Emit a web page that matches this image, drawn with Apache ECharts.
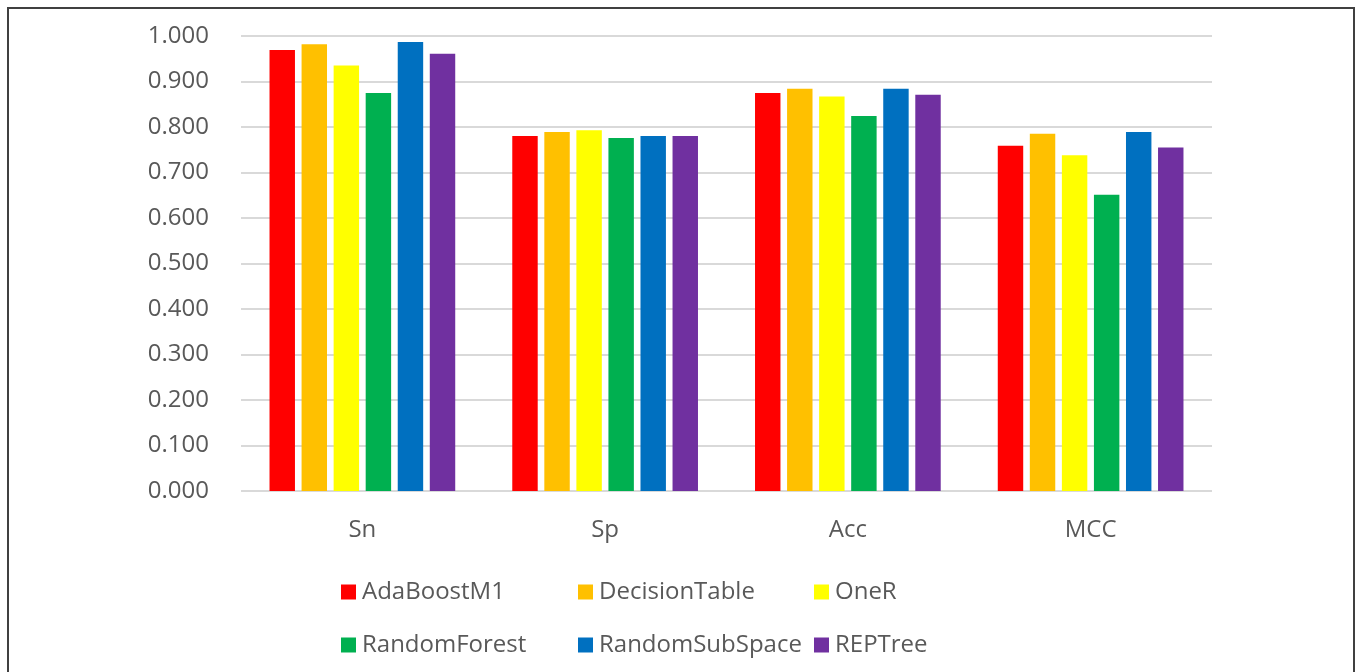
<!DOCTYPE html>
<html>
<head>
<meta charset="utf-8">
<title>Classifier performance</title>
<script src="https://cdn.jsdelivr.net/npm/echarts@6/dist/echarts.min.js"></script>
<style>
  html, body { margin: 0; padding: 0; background: #ffffff; }
  #chart { width: 1358px; height: 672px; }
</style>
</head>
<body>
<div id="chart"></div>
<script>
// Metrics on the x axis
const categories = ['Sn', 'Sp', 'Acc', 'MCC'];

// Classifier scores, one value per metric
const adaBoostM1     = [0.969, 0.780, 0.875, 0.759];
const decisionTable  = [0.982, 0.789, 0.884, 0.785];
const oneR           = [0.935, 0.793, 0.867, 0.738];
const randomForest   = [0.875, 0.776, 0.824, 0.651];
const randomSubSpace = [0.987, 0.780, 0.884, 0.789];
const repTree        = [0.961, 0.780, 0.871, 0.755];

const seriesNames = ['AdaBoostM1', 'DecisionTable', 'OneR', 'RandomForest', 'RandomSubSpace', 'REPTree'];
const seriesValues = [adaBoostM1, decisionTable, oneR, randomForest, randomSubSpace, repTree];
const seriesColors = ['#FF0000', '#FFC000', '#FFFF00', '#00B050', '#0070C0', '#7030A0'];

const FONT = '"Open Sans", "Liberation Sans", sans-serif';
const TEXT_COLOR = '#595959';

const chart = echarts.init(document.getElementById('chart'), null, { renderer: 'canvas' });

// Legend laid out as three columns of two entries each
function legendColumn(names, left) {
  return {
    orient: 'vertical',
    left: left,
    top: 579,
    padding: 0,
    itemWidth: 15,
    itemHeight: 15,
    itemGap: 27,
    icon: 'rect',
    data: names,
    textStyle: {
      fontFamily: FONT,
      fontSize: 24,
      lineHeight: 26,
      color: TEXT_COLOR,
      padding: [0, 0, 0, 1]
    }
  };
}

const option = {
  backgroundColor: '#ffffff',
  animation: false,
  color: seriesColors,
  graphic: [{
    type: 'rect',
    shape: { x: 8, y: 8, width: 1346, height: 700 },
    style: { fill: 'none', stroke: '#404040', lineWidth: 2 },
    silent: true
  }],
  grid: { left: 241, right: 146, top: 36, bottom: 181, containLabel: false },
  legend: [
    legendColumn([seriesNames[0], seriesNames[3]], 341),
    legendColumn([seriesNames[1], seriesNames[4]], 578),
    legendColumn([seriesNames[2], seriesNames[5]], 814)
  ],
  xAxis: {
    type: 'category',
    data: categories,
    axisLine: { show: false },
    axisTick: { show: false },
    axisLabel: {
      margin: 27,
      fontFamily: FONT,
      fontSize: 24,
      color: TEXT_COLOR
    }
  },
  yAxis: {
    type: 'value',
    min: 0,
    max: 1,
    interval: 0.1,
    axisLine: { show: false },
    axisTick: { show: false },
    splitLine: { lineStyle: { color: '#d9d9d9', width: 2 } },
    axisLabel: {
      margin: 32,
      fontFamily: FONT,
      fontSize: 24,
      color: TEXT_COLOR,
      formatter: v => v.toFixed(3)
    }
  },
  series: seriesNames.map((name, i) => ({
    name: name,
    type: 'bar',
    data: seriesValues[i],
    barCategoryGap: '23.5%',
    barGap: '26%',
    itemStyle: { color: seriesColors[i] }
  }))
};

chart.setOption(option);
</script>
</body>
</html>
